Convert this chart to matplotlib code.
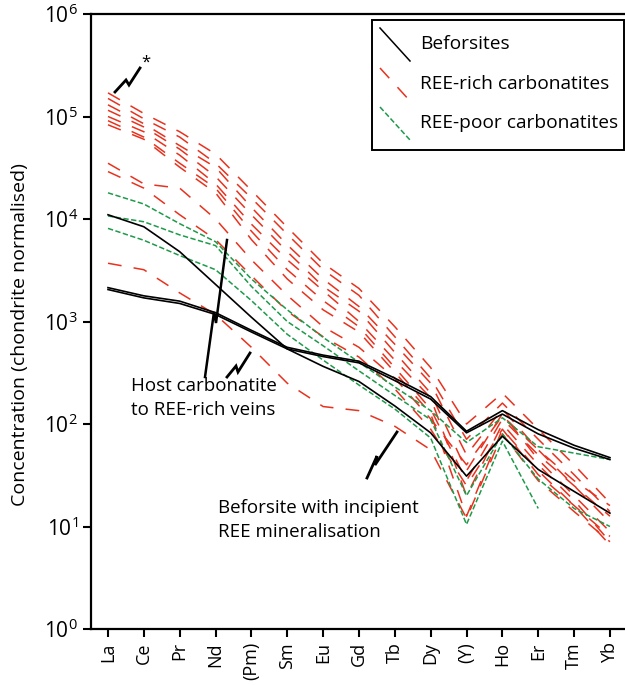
import numpy as np
import matplotlib
matplotlib.use("Agg")
import matplotlib.pyplot as plt
from matplotlib.lines import Line2D
from matplotlib.patches import Rectangle

plt.rcParams["font.family"] = ["Open Sans", "DejaVu Sans"]
plt.rcParams["mathtext.fontset"] = "custom"
plt.rcParams["mathtext.rm"] = "Open Sans"

elements = ["La", "Ce", "Pr", "Nd", "(Pm)", "Sm", "Eu", "Gd", "Tb", "Dy",
            "(Y)", "Ho", "Er", "Tm", "Yb"]

# Beforsites (black, solid)
befor_1 = [11000, 8400, 4800, 2300, 1100, 540, 365, 260, 150, 82, 31, 76, 36, 22, 13.5]
befor_2 = [2140, 1780, 1580, 1220, 820, 560, 470, 410, 280, 185, 85, 135, 88, 62, 47]
befor_3 = [2050, 1700, 1500, 1170, 790, 540, 455, 395, 265, 175, 82, 125, 80, 58, 45]

# REE-rich carbonatites (red, long dash)
rich_1 = [170000, 107000, 71000, 43000, 19000, 8300, 3700, 2100, 890, 355, 100, 200, 89, 40, 17]
rich_2 = [150000, 95000, 63000, 35000, 16000, 7100, 3200, 1800, 710, 280, 71, 160, 71, 32, 14]
rich_3 = [130000, 85000, 52000, 32000, 13000, 5600, 2600, 1400, 600, 250, 50, 140, 56, 25, 11]
rich_4 = [115000, 79000, 48000, 26000, 11000, 4800, 2200, 1260, 500, 200, 35, 126, 45, 20, 8.9]
rich_5 = [100000, 71000, 42000, 22000, 8900, 4000, 2000, 1000, 420, 180, 20, 100, 40, 18, 7.1]
rich_6 = [91000, 63000, 35000, 20000, 7600, 3200, 1600, 890, 355, 140, 28, 112, 50, 25, 12.6]
rich_7 = [83000, 60000, 32000, 18000, 6300, 2600, 1300, 790, 320, 126, 12.6, 89, 35, 16, 6.6]
rich_8 = [35000, 22000, 20000, 10000, 4000, 1800, 890, 560, 280, 112, 40, 120, 56, 28, 16]
rich_9 = [29000, 20000, 11000, 6300, 2800, 1260, 710, 450, 220, 89, 25, 89, 32, 16, 8]
rich_10 = [3700, 3200, 1900, 1170, 560, 250, 148, 135, 95, 56, 12, 80, 28, 14, 7.1]

# REE-poor carbonatites (green, short dash)
poor_1 = [18000, 14000, 9000, 6000, 2600, 1300, 700, 400, 230, 135, 66, 115, 60, 52, 45]
poor_2 = [10700, 9400, 7000, 5500, 2200, 1000, 580, 330, 190, 110, 20, 80, 29, 15, 10]
poor_3 = [8100, 6200, 4400, 3200, 1600, 750, 420, 240, 140, 73, 10.5, 68, 15, np.nan, np.nan]

befor = [befor_1, befor_2, befor_3]
rich = [rich_1, rich_2, rich_3, rich_4, rich_5, rich_6, rich_7, rich_8, rich_9, rich_10]
poor = [poor_1, poor_2, poor_3]

RED = "#e8321e"
GREEN = "#1e9a4a"
W, H = 625, 685


def px(x, y):
    """pixel position (from top-left) -> figure fraction"""
    return x / W, 1 - y / H


fig = plt.figure(figsize=(W / 100, H / 100), dpi=100)
ax = fig.add_axes([91 / W, 1 - 629 / H, (W - 91) / W, (629 - 14) / H])

xs = np.arange(len(elements))
for row in rich:
    ax.plot(xs, row, color=RED, lw=1.1, dashes=(9, 8))
for row in poor:
    ax.plot(xs, row, color=GREEN, lw=1.1, dashes=(3.5, 1.6))
for row in befor:
    ax.plot(xs, row, color="black", lw=1.2)

ax.set_yscale("log")
ax.set_ylim(1, 1e6)
ax.set_xlim(-0.474, 14.42)
ax.set_yticks([10.0 ** k for k in range(7)])
ax.set_yticklabels([f"$10^{{{k}}}$" for k in range(7)], fontsize=15)
ax.yaxis.set_minor_locator(matplotlib.ticker.NullLocator())
ax.set_xticks(xs)
ax.set_xticklabels(elements, rotation=90, fontsize=13)
ax.tick_params(direction="out", length=6, width=1.5)
for s in ["left", "bottom", "top"]:
    ax.spines[s].set_linewidth(1.6)
ax.spines["right"].set_visible(False)

fig.text(*px(20, 335), "Concentration (chondrite normalised)", rotation=90,
         ha="center", va="center", fontsize=14)

# legend drawn by hand: diagonal sample lines
x0, y0 = px(372, 150)
x1, y1 = px(624, 20)
fig.add_artist(Rectangle((x0, y0), x1 - x0, y1 - y0, transform=fig.transFigure,
                         fill=False, lw=1.4, ec="black"))
items = [("Beforsites", "black", None, 28),
         ("REE-rich carbonatites", RED, (9, 8), 68),
         ("REE-poor carbonatites", GREEN, (3.5, 1.6), 107)]
for label, col, dsh, ty in items:
    a = px(380, ty)
    b = px(410, ty + 33)
    ln = Line2D([a[0], b[0]], [a[1], b[1]], transform=fig.transFigure,
                color=col, lw=1.1)
    if dsh:
        ln.set_dashes(dsh)
    fig.add_artist(ln)
    fig.text(*px(420, ty + 16), label, ha="left", va="center", fontsize=13.8)


def zigzag(points, **kw):
    xy = [px(x, y) for x, y in points]
    fig.add_artist(Line2D([p[0] for p in xy], [p[1] for p in xy],
                          transform=fig.transFigure, color="black",
                          lw=kw.get("lw", 2.0), solid_joinstyle="miter"))


# asterisk marker for highest La sample
zigzag([(115, 92), (126, 80), (129, 85), (140, 68)])
fig.text(*px(146, 63), "*", ha="center", va="center", fontsize=12)

# host carbonatite annotation
zigzag([(205, 377), (214, 312), (216, 323), (227, 240)], lw=1.8)
zigzag([(227, 377), (236, 366), (238, 372), (250, 353)])
fig.text(*px(131, 386), "Host carbonatite", ha="left", va="center", fontsize=13.5)
fig.text(*px(131, 410), "to REE-rich veins", ha="left", va="center", fontsize=13.5)

# beforsite annotation
zigzag([(367, 478), (377, 456), (375, 465), (397, 432)])
fig.text(*px(218, 508), "Beforsite with incipient", ha="left", va="center", fontsize=13.5)
fig.text(*px(218, 532), "REE mineralisation", ha="left", va="center", fontsize=13.5)

fig.savefig("out.png", dpi=100)
